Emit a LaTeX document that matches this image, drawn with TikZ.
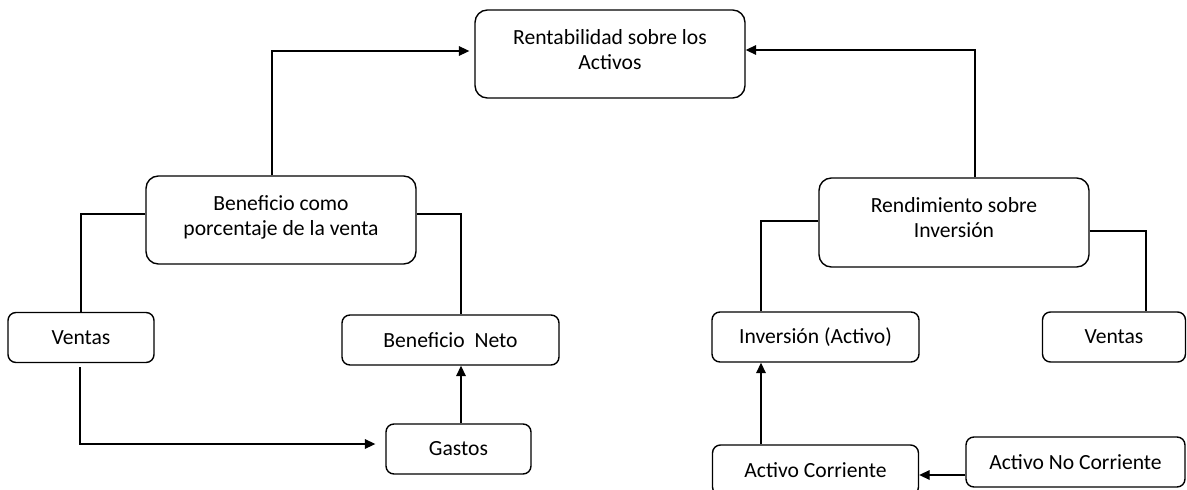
\documentclass[tikz,border=0pt]{standalone}
\usepackage{fontspec}
\setmainfont{Carlito}
\tikzset{
  bigBox/.style = {draw, rounded corners=7pt, line width=0.8pt, minimum width=5.4cm, minimum height=1.76cm, align=center, inner sep=0pt, text depth=5.5pt},
  smallBox/.style = {draw, rounded corners=4.5pt, line width=0.8pt, minimum height=1cm, inner sep=0pt},
  link/.style = {line width=0.7pt},
  linkArrow/.style = {link, -{Triangle[length=6pt, width=5.5pt]}}
}
\usetikzlibrary{arrows.meta, calc, positioning}

\begin{document}
\begin{tikzpicture}[x=0.02cm, y=-0.02cm, font=\fontsize{12.3}{14.2}\selectfont]
  \clip (0,0) rectangle (1187,490);

  \node[bigBox] (rentAct) at (610,54) {Rentabilidad sobre los\\Activos};

  \node[bigBox] (benefVenta) at (281,220) {Beneficio como\\porcentaje de la venta};
  \node[smallBox, minimum width=2.92cm] (ventasIzq) at (81,337.5) {Ventas};
  \node[smallBox, minimum width=4.34cm] (benefNeto) at (450.5,340) {Beneficio\ \ Neto};
  \node[smallBox, minimum width=2.9cm] (gastos) at ($(benefNeto) + (8,109)$) {Gastos};

  \node[bigBox, minimum height=1.78cm] (rendInv) at (954,222.5) {Rendimiento sobre\\Inversión};
  \node[smallBox, minimum width=4.14cm] (inversion) at (815.5,337) {Inversión (Activo)};
  \node[smallBox, minimum width=2.86cm] (ventasDer) at (1114,337) {Ventas};
  \node[smallBox, minimum width=4.12cm] (actCorr) at ($(inversion) + (0,133)$) {Activo Corriente};
  \node[smallBox, minimum width=4.38cm] (actNoCorr) at (1075.5,462) {Activo No Corriente};

  % left branch
  \draw[linkArrow, shorten >=0.1cm] ($(benefVenta.north) + (-9,0)$) |- ($(rentAct.west) + (0,-3)$);
  \draw[link] ($(benefVenta.west) + (0,-6)$) -| (ventasIzq.north);
  \draw[link] ($(benefVenta.east) + (0,-6)$) -| ($(benefNeto.north) + (10.5,0)$);
  \draw[linkArrow, shorten >=0.2cm] ($(ventasIzq.south) + (-1,4)$) |- ($(gastos.west) + (0,-5)$);
  \draw[linkArrow] ($(gastos.north) + (2.5,0)$) -- ($(benefNeto.south) + (10.5,0)$);

  % right branch
  \draw[linkArrow] ($(rendInv.north) + (21,0)$) |- ($(rentAct.east) + (0,-4)$);
  \draw[link] ($(rendInv.west) + (0,-1.5)$) -| ($(inversion.north) + (-54.5,0)$);
  \draw[link] ($(rendInv.east) + (0,8.5)$) -| ($(ventasDer.north) + (32,0)$);
  \draw[linkArrow] ($(actCorr.north) + (-54.5,0)$) -- ($(inversion.south) + (-54.5,0)$);
  \draw[linkArrow] ($(actNoCorr.west) + (0,13)$) -- ($(actCorr.east) + (0,5)$);
\end{tikzpicture}
\end{document}
